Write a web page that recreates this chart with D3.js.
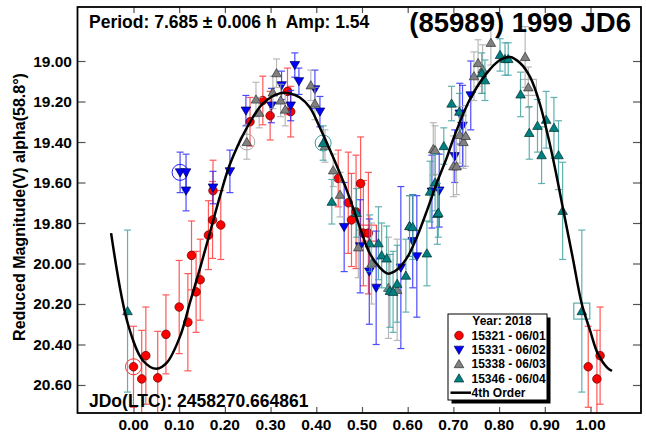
<!DOCTYPE html>
<html lang="en">
  <head>
    <meta charset="utf-8" />
    <title>(85989) 1999 JD6 lightcurve</title>
    <script type="text/javascript" src="https://d3js.org/d3.v7.min.js"></script>
    <style>
      body { margin: 0; background: #fff; }
      svg text { font-family: "Liberation Sans", Arial, sans-serif; font-weight: bold; fill: #000; white-space: pre; }
    </style>
  </head>
  <body>
    <div id="graph"></div>

    <script type="text/javascript">
      /********************************
       * data  [phase, magnitude, error, flag]
       ********************************/

      const xTicks = [0, 0.1, 0.2, 0.3, 0.4, 0.5, 0.6, 0.7, 0.8, 0.9, 1.0];
      const yTicks = [19.0, 19.2, 19.4, 19.6, 19.8, 20.0, 20.2, 20.4, 20.6];

      const session0601 = [
        [0.0, 20.51, 0.2, "c"], [0.018, 20.57, 0.24], [0.027, 20.455, 0.24],
        [0.053, 20.565, 0.23], [0.071, 20.35, 0.195], [0.1, 20.215, 0.23],
        [0.119, 20.29, 0.24], [0.127, 19.96, 0.17], [0.137, 20.14, 0.2],
        [0.146, 20.08, 0.2], [0.164, 19.86, 0.17], [0.173, 19.785, 0.19],
        [0.191, 19.81, 0.17], [0.174, 19.64, 0.15], [0.255, 19.3, 0.12],
        [0.283, 19.195, 0.12], [0.299, 19.27, 0.12], [0.337, 19.15, 0.115],
        [0.344, 19.25, 0.125], [0.448, 19.58, 0.14], [0.47, 19.7, 0.25],
        [0.477, 19.785, 0.23], [0.487, 19.745, 0.28], [0.497, 19.605, 0.23],
        [0.503, 19.85, 0.26], [0.514, 19.85, 0.3, "s"], [0.995, 20.51, 0.2],
        [1.014, 20.57, 0.24], [1.021, 20.455, 0.24],
      ];

      const session0602 = [
        [0.102, 19.55, 0.1, "c"], [0.115, 19.55, 0.09], [0.115, 19.64, 0.1],
        [0.174, 19.625, 0.08], [0.211, 19.545, 0.105], [0.246, 19.245, 0.075],
        [0.302, 19.22, 0.085], [0.324, 19.12, 0.07], [0.353, 19.02, 0.06],
        [0.362, 19.1, 0.065], [0.344, 19.22, 0.075], [0.397, 19.14, 0.095],
        [0.408, 19.25, 0.075], [0.461, 19.82, 0.22], [0.496, 19.915, 0.23],
        [0.516, 20.04, 0.26], [0.531, 20.12, 0.28], [0.585, 20.02, 0.4],
        [0.611, 19.89, 0.23], [0.62, 19.965, 0.3], [0.653, 19.645, 0.18],
        [0.669, 19.64, 0.18], [0.703, 19.47, 0.13], [0.714, 19.26, 0.15],
        [0.72, 19.32, 0.2], [0.738, 19.17, 0.17],
      ];

      const session0603 = [
        [0.248, 19.4, 0.085, "c"], [0.268, 19.19, 0.085], [0.275, 19.255, 0.075],
        [0.305, 19.155, 0.08], [0.313, 19.06, 0.07], [0.322, 19.195, 0.08],
        [0.332, 19.24, 0.08], [0.388, 19.12, 0.075], [0.397, 19.21, 0.08],
        [0.419, 19.42, 0.08], [0.437, 19.54, 0.08], [0.452, 19.66, 0.11],
        [0.492, 19.92, 0.15], [0.521, 20.0, 0.2], [0.558, 20.12, 0.25],
        [0.577, 20.13, 0.25], [0.604, 19.815, 0.15], [0.656, 19.435, 0.13],
        [0.66, 19.44, 0.12], [0.7, 19.52, 0.15], [0.707, 19.52, 0.14],
        [0.714, 19.365, 0.14], [0.722, 19.4, 0.13], [0.727, 19.37, 0.15],
        [0.745, 19.075, 0.12], [0.754, 19.01, 0.115], [0.764, 19.04, 0.12],
        [0.782, 18.91, 0.11], [0.857, 18.98, 0.15], [0.864, 19.13, 0.1, "s"],
      ];

      const session0604 = [
        [-0.013, 20.235, 0.4], [0.415, 19.405, 0.085, "c"], [0.434, 19.695, 0.11],
        [0.488, 19.75, 0.12], [0.517, 19.9, 0.14], [0.536, 19.9, 0.18],
        [0.543, 19.96, 0.16], [0.554, 19.975, 0.16], [0.561, 20.135, 0.18],
        [0.568, 20.14, 0.2], [0.577, 20.1, 0.19], [0.596, 20.06, 0.18],
        [0.604, 19.815, 0.15], [0.611, 19.82, 0.16], [0.642, 19.95, 0.16],
        [0.649, 19.645, 0.15], [0.66, 19.6, 0.14], [0.665, 19.755, 0.15],
        [0.667, 19.75, 0.12], [0.679, 19.42, 0.09], [0.696, 19.21, 0.085],
        [0.713, 19.25, 0.09], [0.762, 19.06, 0.1], [0.769, 19.095, 0.1],
        [0.802, 18.97, 0.08], [0.813, 18.99, 0.08], [0.82, 18.99, 0.08],
        [0.847, 19.165, 0.11], [0.866, 19.355, 0.13], [0.884, 19.32, 0.13],
        [0.893, 19.465, 0.14], [0.903, 19.29, 0.14], [0.92, 19.33, 0.15],
        [0.93, 19.465, 0.17], [0.939, 19.74, 0.24], [0.981, 20.235, 0.4, "s"],
      ];

      // 4th order fit
      const fitCurve = [
        [-0.049, 19.85], [-0.012, 20.3], [0.021, 20.48], [0.051, 20.52],
        [0.073, 20.49], [0.102, 20.36], [0.124, 20.19], [0.146, 20.02],
        [0.167, 19.85], [0.189, 19.67], [0.211, 19.51], [0.248, 19.33],
        [0.283, 19.21], [0.32, 19.16], [0.342, 19.16], [0.364, 19.18],
        [0.386, 19.23], [0.408, 19.33], [0.43, 19.44], [0.467, 19.64],
        [0.495, 19.82], [0.517, 19.95], [0.539, 20.02], [0.557, 20.05],
        [0.577, 20.03], [0.599, 19.97], [0.62, 19.87], [0.642, 19.74],
        [0.664, 19.6], [0.686, 19.475], [0.699, 19.39], [0.736, 19.19],
        [0.773, 19.06], [0.802, 18.995], [0.824, 18.98], [0.846, 19.01],
        [0.868, 19.08], [0.889, 19.21], [0.911, 19.41], [0.926, 19.57],
        [0.939, 19.72], [0.961, 19.97], [0.981, 20.2], [0.999, 20.33],
        [1.016, 20.445], [1.037, 20.515], [1.047, 20.53],
      ];

      const legendTitle = "Year: 2018";
      const legendLabels = ["15321 - 06/01", "15331 - 06/02", "15338 - 06/03", "15346 - 06/04", "4th Order"];

      /***************************
       * svg + scales
       **************************/

      const width = 646;
      const height = 435;
      const frame = { left: 77.5, top: 7, right: 641, bottom: 413 };

      const svg = d3
        .select("div#graph")
        .append("svg")
        .attr("width", width)
        .attr("height", height);

      const xScale = d3.scaleLinear().domain([-0.1225, 1.1105]).range([frame.left, frame.right]);
      const yScale = d3.scaleLinear().domain([18.7333, 20.7383]).range([frame.top, frame.bottom]);

      svg.append("clipPath").attr("id", "plot-area")
        .append("rect")
        .attr("x", frame.left).attr("y", frame.top)
        .attr("width", frame.right - frame.left)
        .attr("height", frame.bottom - frame.top);

      /*********************************
       * axes (ticks inward on all sides)
       *******************************/
      const fmt = d3.format(".2f");

      svg.append("g")
        .attr("transform", `translate(0,${frame.bottom})`)
        .call(d3.axisTop(xScale).tickValues(xTicks).tickSize(6).tickFormat(""))
        .call((g) => g.select(".domain").remove());
      svg.append("g")
        .attr("transform", `translate(0,${frame.top})`)
        .call(d3.axisBottom(xScale).tickValues(xTicks).tickSize(6).tickFormat(""))
        .call((g) => g.select(".domain").remove());
      svg.append("g")
        .attr("transform", `translate(${frame.left},0)`)
        .call(d3.axisRight(yScale).tickValues(yTicks).tickSize(8).tickFormat(""))
        .call((g) => g.select(".domain").remove());
      svg.append("g")
        .attr("transform", `translate(${frame.right},0)`)
        .call(d3.axisLeft(yScale).tickValues(yTicks).tickSize(8).tickFormat(""))
        .call((g) => g.select(".domain").remove());
      svg.selectAll(".tick line").attr("stroke", "#555").attr("stroke-width", 1.2);

      // tick labels
      svg.append("g").selectAll("text")
        .data(xTicks).join("text")
        .attr("x", (d) => xScale(d))
        .attr("y", 430)
        .attr("text-anchor", "middle")
        .attr("font-size", 15.5)
        .text(fmt);

      svg.append("g").selectAll("text")
        .data(yTicks).join("text")
        .attr("x", 72)
        .attr("y", (d) => yScale(d) + 5.5)
        .attr("text-anchor", "end")
        .attr("font-size", 15.5)
        .text(fmt);

      svg.append("text")
        .attr("transform", `translate(25,207) rotate(-90)`)
        .attr("text-anchor", "middle")
        .attr("font-size", 16)
        .text("Reduced Magnitude(V) alpha(58.8°)");

      /*******************************
       * data points with error bars
       *******************************/
      const series = [
        { data: session0601, fill: "#ff0000", stroke: "#600000", bar: "#ff3030", shape: "circle" },
        { data: session0602, fill: "#0000ff", stroke: "#000050", bar: "#2020ff", shape: "down" },
        { data: session0603, fill: "#808080", stroke: "#303030", bar: "#a8a8a8", shape: "up" },
        { data: session0604, fill: "#008080", stroke: "#003030", bar: "#3a9e9e", shape: "up" },
      ];

      function marker(shape) {
        if (shape === "circle") return d3.symbol(d3.symbolCircle, 58)();
        if (shape === "down") return "M-4.8,-3.6L4.8,-3.6L0,4.6Z";
        return "M-4.8,3.6L4.8,3.6L0,-4.6Z";
      }

      const plot = svg.append("g").attr("clip-path", "url(#plot-area)");

      series.forEach((s) => {
        const g = plot.append("g");
        const bars = g.selectAll("g.bar").data(s.data).join("g")
          .attr("stroke", s.bar).attr("stroke-width", 1.2).attr("opacity", 0.8);
        bars.append("line")
          .attr("x1", (d) => xScale(d[0])).attr("x2", (d) => xScale(d[0]))
          .attr("y1", (d) => yScale(d[1] - d[2])).attr("y2", (d) => yScale(d[1] + d[2]));
        [-1, 1].forEach((k) => {
          bars.append("line")
            .attr("x1", (d) => xScale(d[0]) - 3.5).attr("x2", (d) => xScale(d[0]) + 3.5)
            .attr("y1", (d) => yScale(d[1] + k * d[2])).attr("y2", (d) => yScale(d[1] + k * d[2]));
        });

        g.selectAll("circle.flag").data(s.data.filter((d) => d[3] === "c")).join("circle")
          .attr("cx", (d) => xScale(d[0])).attr("cy", (d) => yScale(d[1]))
          .attr("r", 8).attr("fill", "none").attr("stroke", s.bar).attr("stroke-width", 1);
        g.selectAll("rect.flag").data(s.data.filter((d) => d[3] === "s")).join("rect")
          .attr("x", (d) => xScale(d[0]) - 8).attr("y", (d) => yScale(d[1]) - 8)
          .attr("width", 16).attr("height", 16)
          .attr("fill", "none").attr("stroke", s.bar).attr("stroke-width", 1);

        g.selectAll("path.pt").data(s.data).join("path")
          .attr("transform", (d) => `translate(${xScale(d[0])},${yScale(d[1])})`)
          .attr("d", marker(s.shape))
          .attr("fill", s.fill).attr("stroke", s.stroke).attr("stroke-width", 0.7);
      });

      /********************************
       * fit curve
       * *******************************/
      const line = d3.line()
        .x((d) => xScale(d[0]))
        .y((d) => yScale(d[1]))
        .curve(d3.curveCatmullRom);

      plot.append("path")
        .datum(fitCurve)
        .attr("d", line)
        .attr("fill", "none")
        .attr("stroke", "#000")
        .attr("stroke-width", 2.5);

      // frame
      svg.append("rect")
        .attr("x", frame.left).attr("y", frame.top)
        .attr("width", frame.right - frame.left)
        .attr("height", frame.bottom - frame.top)
        .attr("fill", "none").attr("stroke", "#000").attr("stroke-width", 1.8);

      /*******************************
       * header / footer text
       *******************************/
      svg.append("text").attr("x", 89).attr("y", 28).attr("font-size", 17.5)
        .text("Period: 7.685 ± 0.006 h  Amp: 1.54");
      svg.append("text").attr("x", 631).attr("y", 32).attr("font-size", 27.5)
        .attr("text-anchor", "end").text("(85989) 1999 JD6");
      svg.append("text").attr("x", 89).attr("y", 407).attr("font-size", 17.5)
        .text("JDo(LTC): 2458270.664861");

      /*******************************
       * legend
       *******************************/
      const lg = { x: 448, y: 314, w: 99, h: 86 };
      svg.append("rect")
        .attr("x", lg.x + 3.5).attr("y", lg.y + 3.5).attr("width", lg.w).attr("height", lg.h)
        .attr("fill", "#000");
      svg.append("rect")
        .attr("x", lg.x).attr("y", lg.y).attr("width", lg.w).attr("height", lg.h)
        .attr("fill", "#fff").attr("stroke", "#000").attr("stroke-width", 1);

      svg.append("text").attr("x", lg.x + 54).attr("y", lg.y + 11)
        .attr("text-anchor", "middle").attr("font-size", 12).text(legendTitle);

      const rows = svg.append("g").selectAll("g")
        .data(legendLabels).join("g")
        .attr("transform", (d, i) => `translate(${lg.x},${lg.y + 21.5 + i * 14.3})`);
      rows.append("text").attr("x", 23.5).attr("y", 4.3).attr("font-size", 12).text((d) => d);
      rows.filter((d, i) => i < 4).append("path")
        .attr("transform", "translate(11,0)")
        .attr("d", (d, i) => marker(series[i].shape))
        .attr("fill", (d, i) => series[i].fill)
        .attr("stroke", (d, i) => series[i].stroke)
        .attr("stroke-width", 0.7);
      rows.filter((d, i) => i === 4).append("line")
        .attr("x1", 2.5).attr("x2", 23).attr("y1", 0).attr("y2", 0)
        .attr("stroke", "#000").attr("stroke-width", 2.5);
    </script>
  </body>
</html>
